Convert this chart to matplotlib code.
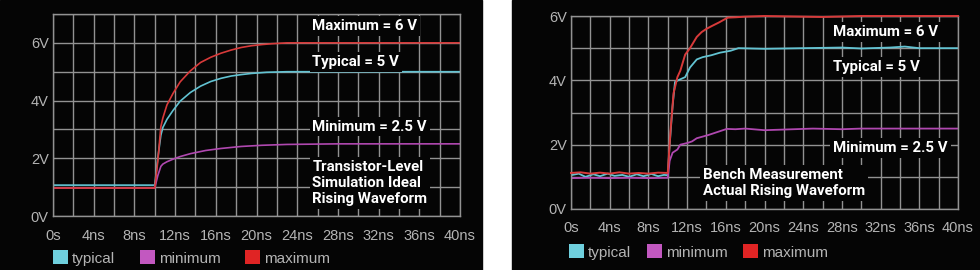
import numpy as np
import matplotlib
matplotlib.use('Agg')
import matplotlib.pyplot as plt
from matplotlib.patches import Rectangle, Patch
from matplotlib.ticker import MultipleLocator

# simulation (left panel), time in ns, volts
sim_typ_t = [0, 10, 10.3, 10.6, 10.8, 11.2, 11.8, 12.5, 13.5, 14.5, 15.5, 16.5, 17.5, 18.5, 19.5, 21, 23, 40]
sim_typ_v = [1.07, 1.07, 2.0, 2.8, 3.07, 3.35, 3.66, 3.98, 4.28, 4.5, 4.66, 4.77, 4.85, 4.9, 4.94, 4.98, 5.0, 5.0]
sim_max_t = [0, 10, 10.3, 10.6, 10.8, 11.2, 11.8, 12.5, 13.5, 14.5, 15.5, 16.5, 17.5, 18.5, 19.5, 20.5, 21.5, 23, 40]
sim_max_v = [0.97, 0.97, 1.9, 3.1, 3.4, 3.85, 4.25, 4.65, 5.03, 5.32, 5.5, 5.64, 5.75, 5.84, 5.9, 5.94, 5.97, 6.0, 6.0]
sim_min_t = [0, 10, 10.3, 10.6, 10.8, 11.2, 11.8, 12.5, 13.5, 15, 16.5, 18.5, 20.5, 23, 28, 40]
sim_min_v = [0.97, 0.97, 1.4, 1.72, 1.8, 1.88, 1.97, 2.06, 2.16, 2.27, 2.34, 2.41, 2.45, 2.48, 2.5, 2.5]

# bench measurement (right panel)
bench_typ_t = [0, 0.8, 1.5, 2.3, 3, 3.8, 4.5, 5.3, 6, 6.8, 7.5, 8.3, 9, 9.6, 10, 10.2, 10.5, 10.75, 11.2, 11.8,
               12.3, 13, 13.6, 14.5, 15.4, 16.5, 17.3, 20, 24, 28, 30, 33, 34.5, 36, 40]
bench_typ_v = [1.05, 1.1, 1.0, 1.08, 1.02, 1.1, 1.03, 1.06, 1.0, 1.08, 1.02, 1.09, 1.02, 1.06, 1.05, 2.0, 3.2, 3.95, 4.02, 4.1,
               4.4, 4.65, 4.72, 4.78, 4.86, 4.92, 5.0, 4.98, 5.0, 5.02, 4.99, 5.02, 5.05, 5.0, 5.0]
bench_max_t = [0, 1, 2, 3, 4, 5, 6, 7, 8, 9, 10, 10.3, 10.6, 11, 11.3, 11.8, 12.3, 13, 13.5, 14, 14.5, 15.3, 16.2,
               17, 18, 20, 26, 30, 40]
bench_max_v = [1.12, 1.14, 1.1, 1.13, 1.1, 1.14, 1.1, 1.12, 1.1, 1.13, 1.12, 2.5, 3.6, 4.1, 4.3, 4.8, 5.0, 5.35, 5.5,
               5.6, 5.68, 5.8, 5.95, 5.96, 5.98, 6.0, 5.97, 6.0, 6.0]
bench_min_t = [0, 2, 4, 6, 8, 10, 10.2, 10.5, 11, 11.3, 12, 12.5, 13, 13.6, 14.2, 15, 16.1, 17, 18, 20, 22, 25,
               28, 30, 33, 40]
bench_min_v = [0.96, 0.97, 0.96, 0.97, 0.96, 0.97, 1.5, 1.75, 1.85, 2.0, 2.05, 2.1, 2.2, 2.25, 2.3, 2.38, 2.49,
               2.48, 2.5, 2.45, 2.47, 2.5, 2.48, 2.5, 2.5, 2.5]

x_ticks = [0, 4, 8, 12, 16, 20, 24, 28, 32, 36, 40]
x_labels = ['0s'] + [f'{t}ns' for t in x_ticks[1:]]
series_names = ['typical', 'minimum', 'maximum']

c_typ, c_min, c_max = '#62c3d2', '#b048b0', '#d83a3a'
leg_colors = ['#6fd0de', '#c258c0', '#e02424']
grid_c = '#929292'
tick_c = '#b4b4b4'
tick_font = 'Liberation Sans'
lab_font = 'Roboto'

fig = plt.figure(figsize=(9.8, 2.7), dpi=100, facecolor='white')
fig.add_artist(Rectangle((0, 0), 482/980, 1, transform=fig.transFigure, color='#050505', zorder=0))
fig.add_artist(Rectangle((512/980, 0), 1 - 512/980, 1, transform=fig.transFigure, color='#050505', zorder=0))

axL = fig.add_axes([53/980, 54/270, 407/980, 202/270])
axR = fig.add_axes([571/980, 61/270, 387/980, 193/270])


def style(ax, ymax):
    ax.set_facecolor('none')
    ax.set_xlim(0, 40)
    ax.set_ylim(0, ymax)
    ax.set_xticks(x_ticks)
    ax.set_xticklabels(x_labels, fontname=tick_font, fontsize=10.5, color=tick_c)
    ax.set_yticks([0, 2, 4, 6])
    ax.set_yticklabels(['0V', '2V', '4V', '6V'], fontname=tick_font, fontsize=10.5, color=tick_c)
    ax.xaxis.set_minor_locator(MultipleLocator(2))
    ax.yaxis.set_minor_locator(MultipleLocator(1))
    ax.tick_params(which='both', length=0)
    ax.tick_params(axis='x', pad=9)
    ax.tick_params(axis='y', pad=3)
    ax.grid(which='both', color=grid_c, lw=1.0)
    ax.set_axisbelow(True)
    for s in ax.spines.values():
        s.set_color(grid_c)
        s.set_linewidth(1.0)


style(axL, 7)
style(axR, 6)

axL.plot(sim_typ_t, sim_typ_v, color=c_typ, lw=1.2)
axL.plot(sim_min_t, sim_min_v, color=c_min, lw=1.2)
axL.plot(sim_max_t, sim_max_v, color=c_max, lw=1.2)

axR.plot(bench_typ_t, bench_typ_v, color=c_typ, lw=1.3)
axR.plot(bench_min_t, bench_min_v, color=c_min, lw=1.3)
axR.plot(bench_max_t, bench_max_v, color=c_max, lw=1.4, clip_on=False, zorder=4)

box = dict(facecolor='#050505', edgecolor='none', pad=2)
tk = dict(color='white', fontname=lab_font, fontweight='bold', fontsize=10.8, va='center', ha='left', bbox=box,
          linespacing=1.2, zorder=5)

axL.text(25.5, 6.59, 'Maximum = 6 V', **tk)
axL.text(25.5, 5.34, 'Typical = 5 V', **tk)
axL.text(25.5, 3.1, 'Minimum = 2.5 V', **tk)
axL.text(25.5, 1.14, 'Transistor-Level\nSimulation Ideal\nRising Waveform', **tk)

axR.text(27.1, 5.5, 'Maximum = 6 V', **tk)
axR.text(27.1, 4.41, 'Typical = 5 V', **tk)
axR.text(27.1, 1.9, 'Minimum = 2.5 V', **tk)
axR.text(13.6, 0.82, 'Bench Measurement\nActual Rising Waveform', **tk)

handles = [Patch(facecolor=c, edgecolor='none') for c in leg_colors]
legL = fig.legend(handles, series_names, loc='center left', bbox_to_anchor=(53/980, 12/270), ncol=3,
                  frameon=False, handlelength=1.0, handleheight=1.0, handletextpad=0.25, columnspacing=1.6,
                  borderpad=0, borderaxespad=0, prop={'family': tick_font, 'size': 11})
legR = fig.legend(handles, series_names, loc='center left', bbox_to_anchor=(569/980, 18/270), ncol=3,
                  frameon=False, handlelength=1.0, handleheight=1.0, handletextpad=0.25, columnspacing=1.0,
                  borderpad=0, borderaxespad=0, prop={'family': tick_font, 'size': 11})
for leg in (legL, legR):
    for t in leg.get_texts():
        t.set_color(tick_c)

fig.savefig('out.png', dpi=100, facecolor='white')
